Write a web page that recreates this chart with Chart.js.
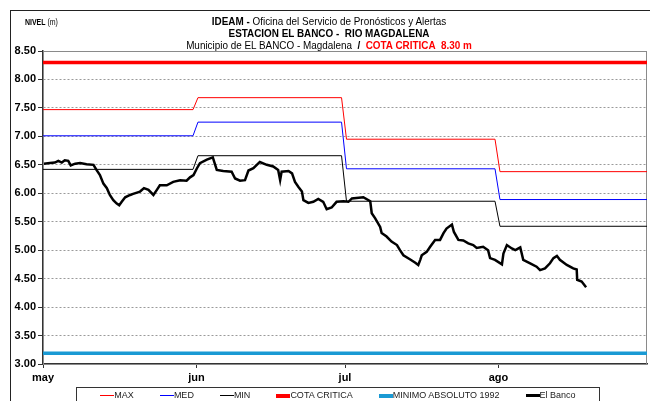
<!DOCTYPE html>
<html>
<head>
<meta charset="utf-8">
<script src="https://cdn.jsdelivr.net/npm/chart.js@4.4.1/dist/chart.umd.min.js"></script>
<style>
  html, body { margin:0; padding:0; background:#fff; overflow:hidden; }
  body { width:650px; height:401px; position:relative;
         font-family:"Liberation Sans Narrow","Arial Narrow","Liberation Sans",Arial,sans-serif; }
  #frame { position:absolute; left:10px; top:10px; width:700px; height:500px;
           border-left:1px solid #222; border-top:1px solid #222; }
  #wrap { position:absolute; left:0; top:0; width:650px; height:401px; }
  #title { position:absolute; left:79px; width:500px; top:15px; text-align:center;
           font-size:11px; line-height:12px; color:#000;
           transform:scaleX(0.9); transform-origin:250px 0; }
  #nivel { position:absolute; left:25px; top:16px; font-size:8.5px; line-height:12px;
           transform:scaleX(0.82); transform-origin:0 0; }
  #legend { position:absolute; left:76px; top:387px; width:524px; height:30px;
            border:1px solid #333; box-sizing:border-box; display:flex;
            justify-content:center; align-items:flex-start; padding-top:2px; }
  .li { display:flex; align-items:center; margin:0 13px; font-size:9px; line-height:11px; color:#222; white-space:nowrap; }
  .sw { width:14px; display:inline-block; }
</style>
</head>
<body>
<div id="frame"></div>
<div id="wrap"><canvas id="c" width="650" height="401"></canvas></div>
<div id="nivel"><b>NIVEL</b> (m)</div>
<div id="title">
  <div><b>IDEAM -</b> Oficina del Servicio de Pronósticos y Alertas</div>
  <div><b>ESTACION EL BANCO -&nbsp; RIO MAGDALENA</b></div>
  <div>Municipio de EL BANCO - Magdalena <b>&nbsp;/&nbsp;</b> <b style="color:#ff0000">COTA CRITICA&nbsp; 8.30 m</b></div>
</div>
<div id="legend"></div>
<script>
// ---- data ----
const monthLabels = ["may", "jun", "jul", "ago"];
const monthStartDays = [0, 31, 61, 92];           // days since 1 May
const yTickValues = [3.0, 3.5, 4.0, 4.5, 5.0, 5.5, 6.0, 6.5, 7.0, 7.5, 8.0, 8.5];

const stepDays  = [0, 30.3, 31.3, 60.3, 61.3, 91.3, 92.3, 122];
const maxLevels = [7.47, 7.47, 7.68, 7.68, 6.95, 6.95, 6.38, 6.38];
const medLevels = [7.01, 7.01, 7.25, 7.25, 6.43, 6.43, 5.89, 5.89];
const minLevels = [6.42, 6.42, 6.66, 6.66, 5.86, 5.86, 5.42, 5.42];

const constDays = [0, 122];
const cotaCritica = [8.30, 8.30];
const minimoAbs1992 = [3.19, 3.19];

const bancoDays = [0.2,1.4,2.4,3.1,3.8,4.4,5.1,5.6,6.5,7.5,8.8,10.2,10.8,11.5,12.2,12.9,13.5,14.2,14.9,15.4,15.9,16.6,17.6,18.2,19.6,20.4,21.3,22.3,23.0,23.6,25.0,26.3,27.7,29.0,29.7,30.4,31.1,31.7,33.1,34.3,35.1,36.4,38.1,38.8,39.8,40.8,41.5,42.5,43.8,45.2,46.5,47.5,47.9,48.2,49.6,50.3,50.9,51.6,52.3,52.6,53.6,54.6,55.6,56.6,57.3,58.3,59.3,60.7,61.7,62.4,64.7,66.1,66.4,67.1,68.1,68.4,69.4,70.4,71.5,72.1,72.8,74.1,75.2,75.8,76.2,76.5,77.5,78.2,79.2,80.2,80.9,81.5,82.6,83.0,83.9,84.9,85.9,86.9,87.6,88.9,89.9,90.3,91.3,92.7,93.0,93.7,94.7,95.4,96.4,97.0,98.4,99.7,100.4,101.4,102.4,103.1,103.8,104.4,105.8,107.1,107.8,107.9,108.8,109.7];
const bancoLevels = [6.52,6.53,6.54,6.57,6.54,6.58,6.57,6.49,6.52,6.53,6.51,6.50,6.41,6.32,6.17,6.09,5.97,5.88,5.82,5.79,5.85,5.93,5.97,5.99,6.03,6.09,6.06,5.97,6.06,6.14,6.14,6.20,6.23,6.22,6.28,6.32,6.44,6.53,6.59,6.63,6.41,6.39,6.38,6.26,6.22,6.23,6.40,6.44,6.55,6.50,6.47,6.41,6.23,6.38,6.39,6.35,6.20,6.11,6.03,5.88,5.83,5.85,5.90,5.85,5.72,5.75,5.85,5.86,5.85,5.91,5.93,5.86,5.65,5.56,5.41,5.30,5.24,5.15,5.09,5.00,4.91,4.84,4.78,4.74,4.83,4.91,4.97,5.06,5.18,5.18,5.30,5.38,5.45,5.32,5.18,5.17,5.12,5.09,5.04,5.06,5.00,4.86,4.83,4.75,4.94,5.09,5.03,5.00,5.05,4.83,4.77,4.71,4.65,4.68,4.77,4.86,4.90,4.83,4.74,4.68,4.66,4.48,4.45,4.35];

// ---- chart ----
const pts = (xs, ys) => xs.map((x, i) => ({ x: x, y: ys[i] }));
const FONT = '"Liberation Sans Narrow","Arial Narrow","Liberation Sans",Arial,sans-serif';

const datasets = [
  { label: "MAX", data: pts(stepDays, maxLevels), borderColor: "#ff0000", borderWidth: 1, order: 5 },
  { label: "MED", data: pts(stepDays, medLevels), borderColor: "#0000ff", borderWidth: 1, order: 4 },
  { label: "MIN", data: pts(stepDays, minLevels), borderColor: "#000000", borderWidth: 1, order: 3 },
  { label: "COTA CRITICA", data: pts(constDays, cotaCritica), borderColor: "#ff0000", borderWidth: 3.5, order: 2 },
  { label: "MINIMO ABSOLUTO 1992", data: pts(constDays, minimoAbs1992), borderColor: "#1a9ad4", borderWidth: 3.5, order: 2 },
  { label: "El Banco", data: pts(bancoDays, bancoLevels), borderColor: "#000000", borderWidth: 2.5, order: 0 }
];
datasets.forEach(d => { d.pointRadius = 0; d.fill = false; d.tension = 0; d.showLine = true; });

const plotFrame = {
  id: "plotFrame",
  beforeDatasetsDraw(chart) {
    const a = chart.chartArea, ctx = chart.ctx;
    ctx.save();
    ctx.strokeStyle = "#8a8a8a";
    ctx.lineWidth = 1;
    ctx.strokeRect(a.left + 0.5, a.top + 0.5, a.right - a.left - 1, a.bottom - a.top);
    ctx.restore();
  }
};

const chart = new Chart(document.getElementById("c"), {
  type: "line",
  data: { datasets: datasets },
  plugins: [plotFrame],
  options: {
    responsive: false,
    animation: false,
    layout: { padding: { left: 0, right: 3, top: 51, bottom: 0 } },
    plugins: { legend: { display: false }, title: { display: false }, tooltip: { enabled: false } },
    scales: {
      x: {
        type: "linear", min: 0, max: 122,
        afterFit(s) { s.height = 37; },
        afterBuildTicks(s) { s.ticks = monthStartDays.map(v => ({ value: v })); },
        ticks: {
          autoSkip: false, maxRotation: 0, padding: 3,
          color: "#000", font: { family: FONT, size: 11, weight: "bold" },
          callback(v, i) { return monthLabels[i]; }
        },
        grid: { drawOnChartArea: false, drawTicks: true, tickLength: 4, tickColor: "#333" },
        border: { display: true, color: "#333", width: 1.5 }
      },
      y: {
        type: "linear", min: 3, max: 8.5,
        afterFit(s) { s.width = 43; },
        afterBuildTicks(s) { s.ticks = yTickValues.map(v => ({ value: v })); },
        ticks: {
          padding: 2, color: "#000",
          font: { family: FONT, size: 11, weight: "bold" },
          callback(v) { return Number(v).toFixed(2); }
        },
        grid: { color: "#9a9a9a", lineWidth: 1, tickLength: 5, tickColor: "#333" },
        border: { display: true, color: "#333", width: 1.5, dash: [2, 2] }
      }
    }
  }
});

// ---- legend built from datasets ----
const leg = document.getElementById("legend");
chart.data.datasets.forEach(d => {
  const item = document.createElement("div");
  item.className = "li";
  const sw = document.createElement("span");
  sw.className = "sw";
  sw.style.height = Math.max(1, Math.round(d.borderWidth)) + "px";
  sw.style.background = d.borderColor;
  const tx = document.createElement("span");
  tx.textContent = d.label;
  item.appendChild(sw); item.appendChild(tx);
  leg.appendChild(item);
});
</script>
</body>
</html>
